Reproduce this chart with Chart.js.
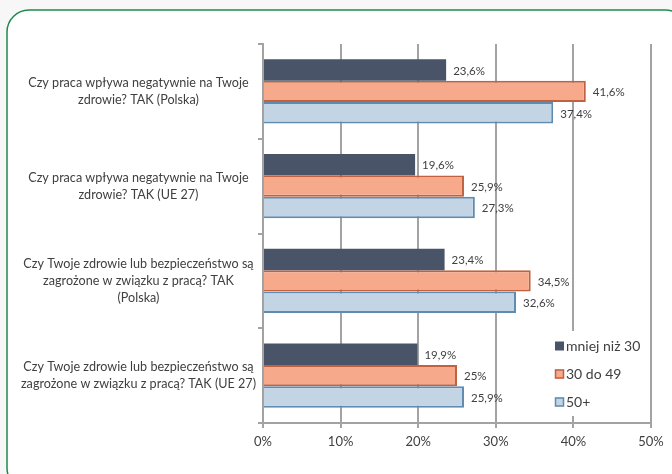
<!DOCTYPE html>
<html>
<head>
<meta charset="utf-8">
<script src="https://cdn.jsdelivr.net/npm/chart.js@4/dist/chart.umd.min.js"></script>
<style>
  html, body { margin: 0; padding: 0; background: #ffffff; }
  #wrap { width: 672px; height: 474px; position: relative; }
</style>
</head>
<body>
<div id="wrap"><canvas id="chart" width="672" height="474"></canvas></div>
<script>
// categories (y axis), top to bottom
var categories = [
    ['Czy praca wpływa negatywnie na Twoje', 'zdrowie? TAK (Polska)'],
    ['Czy praca wpływa negatywnie na Twoje', 'zdrowie? TAK (UE 27)'],
    ['Czy Twoje zdrowie lub bezpieczeństwo są', 'zagrożone w związku z pracą? TAK', '(Polska)'],
    ['Czy Twoje zdrowie lub bezpieczeństwo są', 'zagrożone w związku z pracą? TAK (UE 27)']
];
var seriesNames = ['mniej niż 30', '30 do 49', '50+'];
var under30 = [23.6, 19.6, 23.4, 19.9];
var age30to49 = [41.6, 25.9, 34.5, 25.0];
var over50 = [37.4, 27.3, 32.6, 25.9];
var xTicks = [0, 10, 20, 30, 40, 50];

var fontFamily = 'Lato, "Open Sans", sans-serif';
var textColor = '#404040';
var gridColor = '#a3a3a3';

function fmt(v) {
    return String(v).replace('.', ',') + '%';
}

// green rounded frame around the whole chart
var framePlugin = {
    id: 'frame',
    beforeDraw: function (chart) {
        var c = chart.ctx;
        c.save();
        c.fillStyle = '#f6f7f6';
        c.fillRect(0, 0, chart.width, chart.height);
        c.beginPath();
        c.roundRect(7, 10, 680, 480, 22);
        c.fillStyle = '#ffffff';
        c.fill();
        c.lineWidth = 1.5;
        c.strokeStyle = '#1f8a4c';
        c.stroke();
        c.restore();
    }
};

// value labels at the end of each bar
var valueLabels = {
    id: 'valueLabels',
    afterDatasetsDraw: function (chart) {
        var c = chart.ctx;
        c.save();
        c.font = '11.5px ' + fontFamily;
        c.fillStyle = textColor;
        c.textAlign = 'left';
        c.textBaseline = 'middle';
        chart.data.datasets.forEach(function (ds, i) {
            chart.getDatasetMeta(i).data.forEach(function (bar, j) {
                c.fillText(fmt(ds.data[j]), bar.x + 7, bar.y + 1);
            });
        });
        c.restore();
    }
};

// legend inside the plot, on a white box
var boxLegend = {
    id: 'boxLegend',
    afterDatasetsDraw: function (chart) {
        var c = chart.ctx;
        var x = 553, y = 331;
        c.save();
        c.fillStyle = '#ffffff';
        c.fillRect(x, y, 88, 85);
        c.font = '14px ' + fontFamily;
        c.textBaseline = 'middle';
        c.textAlign = 'left';
        chart.data.datasets.forEach(function (ds, i) {
            var cy = 346 + i * 28;
            c.fillStyle = ds.backgroundColor;
            c.fillRect(555, cy - 4.5, 9, 9);
            if (ds.borderWidth) {
                c.strokeStyle = ds.borderColor;
                c.lineWidth = 1.5;
                c.strokeRect(555.5, cy - 4, 8, 8);
            }
            c.fillStyle = textColor;
            c.fillText(ds.label, 566, cy);
        });
        c.restore();
    }
};

new Chart(document.getElementById('chart'), {
    type: 'bar',
    data: {
        labels: categories,
        datasets: [
            { label: seriesNames[0], data: under30, backgroundColor: '#4a5468', borderColor: '#4a5468', borderWidth: 0 },
            { label: seriesNames[1], data: age30to49, backgroundColor: '#f7a98c', borderColor: '#c0623f', borderWidth: 2 },
            { label: seriesNames[2], data: over50, backgroundColor: '#c3d5e5', borderColor: '#5f8bb0', borderWidth: 2 }
        ]
    },
    options: {
        indexAxis: 'y',
        responsive: false,
        animation: false,
        categoryPercentage: 0.68,
        barPercentage: 1,
        layout: { padding: { left: 0, top: 44, right: 21, bottom: 0 } },
        plugins: {
            legend: { display: false },
            tooltip: { enabled: false }
        },
        scales: {
            x: {
                min: 0,
                max: 50,
                afterBuildTicks: function (scale) {
                    scale.ticks = xTicks.map(function (v) { return { value: v }; });
                },
                afterFit: function (scale) { scale.height = 51; },
                ticks: {
                    color: textColor,
                    font: { family: fontFamily, size: 13 },
                    padding: 6,
                    callback: function (v) { return v + '%'; }
                },
                grid: { color: gridColor, lineWidth: 2, tickLength: 5 },
                border: { color: gridColor, width: 2 }
            },
            y: {
                afterFit: function (scale) { scale.width = 263; },
                ticks: {
                    color: textColor,
                    font: { family: fontFamily, size: 12.6, lineHeight: 1.36 },
                    crossAlign: 'center',
                    padding: 2
                },
                grid: { drawOnChartArea: false, color: gridColor, lineWidth: 2, tickLength: 5 },
                border: { color: gridColor, width: 2 }
            }
        }
    },
    plugins: [framePlugin, valueLabels, boxLegend]
});
</script>
</body>
</html>
